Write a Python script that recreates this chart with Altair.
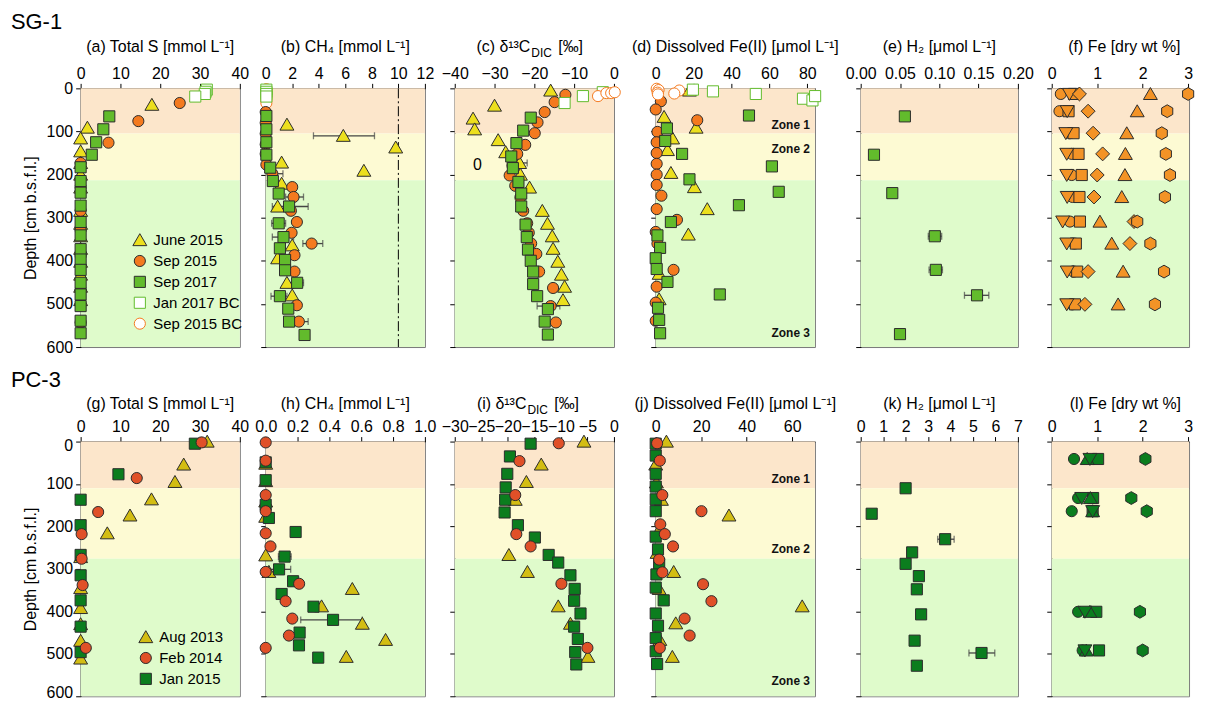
import altair as alt
import pandas as pd

FONT = "Liberation Sans"

# ---------------- colours ----------------
YEL, ORG, GRN = "#ECDF1E", "#F47A1F", "#62BB2C"
OLV, RED, DGN = "#D3BD13", "#E05028", "#0B7D1E"
FE_ORG = "#F39326"
DK = "#2b2b2b"
Z1, Z2, Z3 = "#FCE6CB", "#FDFAD3", "#DFFBCB"

# custom symbol paths
TRI_UP = "M0,-1.15L1.25,1L-1.25,1Z"
TRI_DN = "M0,1.15L1.25,-1L-1.25,-1Z"
DIAM = "M0,-1.25L1.25,0L0,1.25L-1.25,0Z"
HEX = "M0,-1.15L1,-0.58L1,0.58L0,1.15L-1,0.58L-1,-0.58Z"

# ================= SG-1 =================
SG_NAMES = ["June 2015", "Sep 2015", "Sep 2017", "Jan 2017 BC", "Sep 2015 BC"]
SG_ZONES = [105, 213, 600]

# (a) Total S
A_JUN_D = [38, 91, 116, 146, 173, 200, 230, 284, 314, 343, 372, 402, 432, 460, 491]
A_JUN_V = [17.9, 1.7, 0, 0, 0, 0, 0, 0, 0, 0, 0, 0, 0, 0, 0]
A_S15_D = [34, 76, 126, 173, 229, 284, 328, 388, 467, 543]
A_S15_V = [24.9, 14.5, 7.0, 0, 0, 0, 0, 0, 0, 0]
A_S17_D = [65, 95, 125, 154, 183, 215, 242, 272, 310, 341, 373, 397, 421, 451, 478, 505, 539, 568]
A_S17_V = [7.2, 5.7, 3.9, 2.8, 0, 0, 0, 0, 0, 0, 0, 0, 0, 0, 0, 0, 0, 0]
A_JBC_D = [3, 8, 13, 19]
A_JBC_V = [31.7, 31.4, 31.2, 28.8]

# (b) CH4
B_JUN_D = [84, 110, 137, 172, 191, 221, 274, 364, 394, 451, 480]
B_JUN_V = [1.6, 5.85, 9.8, 1.2, 7.4, 1.2, 0.9, 2.0, 0.9, 1.6, 2.0]
B_S15_D = [55, 80, 105, 130, 152, 177, 198, 229, 252, 284, 310, 335, 360, 387, 425, 503, 541]
B_S15_V = [0, 0, 0, 0, 0, 0.05, 0.5, 2.0, 2.1, 1.9, 2.35, 1.95, 3.46, 2.17, 2.17, 2.35, 2.5]
B_S17_D = [64, 95, 125, 154, 184, 215, 244, 274, 313, 345, 371, 398, 422, 451, 482, 511, 541, 572]
B_S17_V = [0.05, 0.05, 0.05, 0.05, 0.34, 0.54, 0.98, 1.76, 0.98, 1.34, 1.07, 1.46, 1.46, 2.37, 1.07, 1.7, 1.76, 2.93]
B_JBC_D = [3, 8, 13, 19]
B_JBC_V = [0.05, 0.05, 0.05, 0.05]
B_SBC_D = [2, 8, 14, 20, 27, 34]
B_SBC_V = [0.05, 0.05, 0.05, 0.05, 0.05, 0.05]
B_ERR_D = [110, 198, 252, 360, 541, 274, 313, 345, 451, 482]
B_ERR_LO = [3.6, 0.2, 1.5, 2.8, 2.1, 0.5, 0.45, 0.5, 2.1, 0.4]
B_ERR_HI = [8.2, 1.3, 2.85, 4.3, 3.2, 3.2, 1.5, 2.1, 2.85, 1.6]
B_LINE = [10]

# (c) d13C DIC
C_JUN_D = [5, 40, 70, 95, 120, 148, 173, 200, 230, 284, 314, 343, 372, 402, 432, 460, 491]
C_JUN_V = [-15.9, -30.0, -35.4, -35.0, -29.1, -27.2, -23.7, -23.5, -21.2, -18.0, -16.7, -15.5, -15.3, -14.1, -13.2, -12.4, -12.8]
C_S15_D = [15, 32, 55, 79, 104, 131, 152, 179, 202, 226, 253, 284, 313, 335, 360, 384, 425, 463, 505, 543]
C_S15_V = [-12.2, -14.9, -17.4, -19.2, -19.9, -22.3, -24.3, -25.5, -26.2, -24.8, -23.5, -22.8, -21.8, -21.4, -20.8, -19.5, -18.8, -15.3, -15.9, -14.6]
C_S17_D = [68, 98, 127, 158, 185, 217, 244, 274, 316, 345, 374, 400, 425, 454, 482, 512, 541, 571]
C_S17_V = [-20.9, -22.8, -24.5, -25.8, -25.4, -24.0, -23.3, -23.3, -22.2, -21.9, -21.6, -20.9, -20.3, -20.3, -19.3, -16.6, -17.4, -16.6]
C_JBC_D = [9, 18, 34]
C_JBC_V = [-2.8, -7.8, -12.4]
C_SBC_D = [18, 11, 11, 9]
C_SBC_V = [-4.0, -1.9, -0.7, 0.2]
C_ERR_D = [505, 173]
C_ERR_LO = [-19.3, -23.7]
C_ERR_HI = [-13.6, -21.8]
C_NOTE = ["0"]
C_NOTE_D = [177]
C_NOTE_V = [-34.3]

# (d) Dissolved Fe(II)
D_JUN_D = [5, 66, 91, 116, 143, 196, 229, 280, 339, 430, 489]
D_JUN_V = [17.8, 4.4, 21.3, 8.9, 6.2, 8.0, 20.4, 27.2, 17.2, 1.8, 1.8]
D_S15_D = [30, 49, 74, 101, 125, 150, 175, 200, 224, 249, 280, 305, 333, 360, 421, 460, 497, 539]
D_S15_V = [2.7, 0, 21.9, 0.9, 0.5, 0.5, 0.5, 0.5, 0.5, 3.0, 0.5, 11.2, 0, 0.9, 9.4, 0.5, 0, 0]
D_S17_D = [63, 93, 122, 152, 181, 211, 240, 271, 310, 341, 370, 394, 419, 449, 478, 509, 537, 568]
D_S17_V = [49.2, 5.9, 5.0, 13.9, 61.3, 17.8, 64.9, 43.9, 8.0, 0.9, 2.3, 0, 0.5, 6.2, 33.8, 1.2, 1.8, 2.3]
D_JBC_D = [3, 7, 13, 24, 28, 18]
D_JBC_V = [19.6, 30.2, 52.8, 77.7, 82.7, 84.1]
D_SBC_D = [1, 4, 10, 14, 5, 12]
D_SBC_V = [0.5, 1.5, 1.0, 1.2, 12.4, 9.8]
SG_ZONE_TXT = ["Zone 1", "Zone 2", "Zone 3"]
SG_ZONE_TXT_D = [85, 140, 568]

# (e) H2
E_S17_D = [65, 154, 243, 343, 421, 480, 570]
E_S17_V = [0.0562, 0.0169, 0.0402, 0.0943, 0.0956, 0.148, 0.050]
E_ERR_D = [343, 421, 480]
E_ERR_LO = [0.086, 0.087, 0.132]
E_ERR_HI = [0.103, 0.104, 0.163]

# (f) Fe [dry wt %]
FE_NAMES = ["circle", "square", "tri-down", "diamond", "tri-up", "hexagon"]
F_D = [13, 53, 104, 152, 201, 252, 309, 360, 425, 501]
F_CIRC = [0.2, 0.17, 0.4, 0.44, 0.44, 0.46, 0.4, 0.5, 0.48, 0.45]
F_SQR = [0.49, 0.37, 0.48, 0.59, 0.66, 0.61, 0.62, 0.53, 0.56, 0.51]
F_TDN = [0.39, 0.34, 0.31, 0.33, 0.33, 0.34, 0.24, 0.33, 0.34, 0.33]
F_DIA = [0.61, 0.8, 0.91, 1.12, 1.0, 0.93, 1.81, 1.72, 0.8, 0.73]
F_TUP = [2.17, 1.88, 1.65, 1.62, 1.61, 1.54, 1.06, 1.32, 1.57, 1.46]
F_HEX = [3.0, 2.54, 2.42, 2.51, 2.6, 2.49, 1.88, 2.17, 2.47, 2.27]

# ================= PC-3 =================
PC_NAMES = ["Aug 2013", "Feb 2014", "Jan 2015"]
PC_ZONES = [110, 276, 600]

# (g) Total S
G_A13_D = [0, 54, 95, 136, 174, 216, 272, 345, 392, 430, 469, 511]
G_A13_V = [31.8, 25.9, 23.7, 17.8, 12.4, 6.7, 0, 0, 0, 0, 0, 0]
G_F14_D = [2, 86, 166, 218, 276, 338, 486]
G_F14_V = [30.4, 14.1, 4.4, 0.25, 0.25, 0.5, 1.3]
G_J15_D = [5, 77, 137, 197, 267, 315, 374, 436, 496]
G_J15_V = [28.7, 9.5, 0, 0, 0, 0, 0, 0, 0]

# (h) CH4
H_A13_D = [52, 93, 141, 177, 268, 307, 347, 388, 429, 467, 507]
H_A13_V = [0, 0, 0, 0, 0, 0.02, 0.544, 0.351, 0.607, 0.753, 0.506]
H_F14_D = [2, 45, 126, 164, 216, 247, 307, 335, 376, 417, 457, 486]
H_F14_V = [0, 0, 0, 0, 0, 0.03, 0, 0.21, 0.125, 0.167, 0.146, 0]
H_J15_D = [49, 91, 149, 180, 213, 271, 301, 329, 359, 389, 420, 450, 480, 509]
H_J15_V = [0, 0, 0, 0.02, 0.188, 0.119, 0.084, 0.172, 0.1, 0.3, 0.423, 0.213, 0.209, 0.33]
H_ERR_D = [271, 301, 389, 420]
H_ERR_LO = [0.08, 0.02, 0.27, 0.22]
H_ERR_HI = [0.16, 0.157, 0.33, 0.607]

# (i) d13C DIC
I_A13_D = [0, 54, 95, 137, 267, 307, 388, 429, 507]
I_A13_V = [-5.65, -13.7, -16.5, -18.6, -19.8, -16.3, -10.5, -8.2, -4.9]
I_F14_D = [4, 46, 126, 218, 247, 335, 486]
I_F14_V = [-10.4, -17.8, -18.6, -18.4, -15.7, -9.9, -5.0]
I_J15_D = [5, 35, 76, 108, 137, 167, 197, 226, 267, 285, 315, 347, 375, 405, 436, 465, 496, 525]
I_J15_V = [-15.7, -19.6, -20.1, -20.4, -20.5, -20.6, -18.1, -14.9, -12.3, -10.5, -8.2, -7.4, -7.5, -6.3, -7.5, -6.8, -7.3, -7.1]

# (j) Dissolved Fe(II)
J_A13_D = [0, 54, 96, 137, 174, 213, 262, 307, 347, 388, 428, 467, 507]
J_A13_V = [4.7, 0, 0.3, 2.5, 32.2, 1.0, 0.6, 7.9, 1.5, 64.4, 8.8, 1.8, 7.3]
J_F14_D = [4, 45, 126, 164, 195, 218, 247, 278, 308, 336, 376, 417, 457, 486]
J_F14_V = [0.6, 1.8, 2.9, 20.1, 2.0, 4.0, 7.6, 1.5, 2.9, 20.8, 24.5, 12.7, 14.9, 1.8]
J_J15_D = [5, 33, 76, 106, 136, 164, 224, 254, 288, 313, 344, 374, 405, 434, 463, 494, 524]
J_J15_V = [0, 0, 0, 0, 0, 0, 0, 1.0, 1.5, 0.3, 0, 3.5, 0, 1.0, 0, 0, 0.6]
PC_ZONE_TXT = ["Zone 1", "Zone 2", "Zone 3"]
PC_ZONE_TXT_D = [89, 254, 565]

# (k) H2
K_J15_D = [110, 170, 230, 261, 288, 317, 348, 407, 469, 498, 528]
K_J15_V = [2.0, 0.49, 3.76, 2.29, 2.0, 2.59, 2.5, 2.69, 2.4, 5.38, 2.5]
K_ERR_D = [230, 498, 317, 348, 407, 528]
K_ERR_LO = [3.43, 4.82, 2.45, 2.35, 2.55, 2.35]
K_ERR_HI = [4.16, 5.97, 2.75, 2.65, 2.85, 2.65]

# (l) Fe [dry wt %]
L_D = [41, 133, 164, 401, 492]
L_CIRC = [0.49, 0.58, 0.44, 0.58, 0.68]
L_SQR = [1.02, 0.91, 0.9, 0.98, 1.04]
L_TDN = [0.84, 0.66, 0.9, 0.73, 0.73]
L_TUP = [0.78, 0.85, 0.9, 0.84, 0.76]
L_HEX = [2.06, 1.75, 2.09, 1.94, 2.0]

YT = list(range(0, 601, 100))


def pts_frame(items):
    rows = []
    for name, ds, vs in items:
        for d, v in zip(ds, vs):
            rows.append({"series": name, "depth": d, "value": v})
    return pd.DataFrame(rows)


def err_frame(ds, lo, hi):
    return pd.DataFrame({"depth": ds, "lo": lo, "hi": hi})


def panel(df, names, shapes, fills, strokes, xdom, xvals, xfmt, zones, width, height,
          first, title_pieces, title_dy, legend=None, errs=None, vline=None, notes=None,
          zone_text=None, row_label=None, flush=False):
    yscale = alt.Scale(domain=[0, 600], reverse=True, nice=False, zero=False)
    xscale = alt.Scale(domain=xdom, nice=False, zero=False)
    if first:
        if flush:
            yaxis = alt.Axis(values=YT, labels=True, title="Depth [cm b.s.f.l.]", labelFontSize=16,
                             titleFontSize=16, titleFontWeight="normal", tickSize=5, labelPadding=3,
                             titlePadding=8, labelFlush=True, labelFlushOffset=4, labelOverlap=False)
        else:
            yaxis = alt.Axis(values=YT, labels=True, title="Depth [cm b.s.f.l.]", labelFontSize=16,
                             titleFontSize=16, titleFontWeight="normal", tickSize=5, labelPadding=3,
                             titlePadding=8, labelFlush=False, labelOverlap=False)
    else:
        yaxis = alt.Axis(values=YT, labels=False, title=None, tickSize=5)
    xaxis = alt.Axis(orient="top", values=xvals, format=xfmt, title=None, labelFontSize=16,
                     tickSize=5, labelPadding=2, labelOverlap=False, labelFlush=False)
    layers = []
    z0 = 0
    for end, col in zip(zones, [Z1, Z2, Z3]):
        zdf = pd.DataFrame({"start": [z0], "end": [end]})
        layers.append(
            alt.Chart(zdf).mark_rect(fill=col, strokeWidth=0).encode(
                x=alt.value(0), x2=alt.value(width),
                y=alt.Y("start:Q", scale=yscale, axis=yaxis),
                y2="end:Q"))
        z0 = end
    if vline is not None:
        layers.append(
            alt.Chart(pd.DataFrame({"v": vline})).mark_rule(
                color="black", strokeWidth=1, strokeDash=[10, 3, 2, 3]).encode(
                x=alt.X("v:Q", scale=xscale, axis=xaxis)))
    if errs is not None:
        layers.append(
            alt.Chart(errs).mark_errorbar(ticks=True, size=7, thickness=1.3, color="#444").encode(
                x=alt.X("lo:Q", scale=xscale, axis=xaxis),
                x2="hi:Q",
                y=alt.Y("depth:Q", scale=yscale, axis=yaxis)))
    layers.append(
        alt.Chart(df).mark_point(opacity=1, fillOpacity=1, strokeWidth=1, size=125).encode(
            x=alt.X("value:Q", scale=xscale, axis=xaxis),
            y=alt.Y("depth:Q", scale=yscale, axis=yaxis),
            shape=alt.Shape("series:N", scale=alt.Scale(domain=names, range=shapes), legend=legend),
            fill=alt.Fill("series:N", scale=alt.Scale(domain=names, range=fills), legend=legend),
            stroke=alt.Stroke("series:N", scale=alt.Scale(domain=names, range=strokes), legend=legend)))
    if notes is not None:
        layers.append(
            alt.Chart(notes).mark_text(fontSize=16, font=FONT, color="black").encode(
                x=alt.X("value:Q", scale=xscale, axis=xaxis),
                y=alt.Y("depth:Q", scale=yscale, axis=yaxis),
                text="label:N"))
    if zone_text is not None:
        layers.append(
            alt.Chart(zone_text).mark_text(fontSize=12, font=FONT, fontWeight="bold",
                                           align="right", baseline="middle", color="#111").encode(
                x=alt.value(width - 5),
                y=alt.Y("depth:Q", scale=yscale, axis=yaxis),
                text="label:N"))
    for txt, dx, dy, fs, al in title_pieces:
        layers.append(
            alt.Chart(pd.DataFrame({"t": [txt]})).mark_text(
                fontSize=fs, font=FONT, align=al, baseline="middle", color="black").encode(
                x=alt.value(width / 2 + dx), y=alt.value(dy + title_dy), text="t:N"))
    if row_label is not None:
        txt, dy = row_label
        layers.append(
            alt.Chart(pd.DataFrame({"t": [txt]})).mark_text(
                fontSize=22, font=FONT, align="left", baseline="middle", color="black").encode(
                x=alt.value(-70), y=alt.value(dy), text="t:N"))
    return alt.layer(*layers).properties(width=width, height=height)


def spacer(w, h):
    return alt.Chart(pd.DataFrame({"s": [0]})).mark_point(opacity=0).encode(
        x=alt.value(0), y=alt.value(0)
    ).properties(width=w, height=h, view=alt.ViewBackground(stroke=None))


def simple_title(t):
    return [(t, 0, 0, 16, "center")]


def dic_title(prefix, shift):
    return [(prefix + " δ¹³C", -4 + shift, 0, 16, "right"),
            ("DIC", -3 + shift, 6, 12, "left"),
            ("[‰]", 24 + shift, 0, 16, "left")]


def legend_at(x, y):
    return alt.Legend(orient="none", legendX=x, legendY=y, title=None, labelFontSize=15,
                      labelFont=FONT, symbolSize=125, symbolStrokeWidth=1, rowPadding=4,
                      labelOffset=6, padding=0, labelLimit=0)


SG_SHAPES = [TRI_UP, "circle", "square", "square", "circle"]
SG_FILLS = [YEL, ORG, GRN, "white", "white"]
SG_STROKES = [DK, DK, DK, GRN, ORG]
PC_SHAPES = [TRI_UP, "circle", "square"]
PC_FILLS = [OLV, RED, DGN]
PC_STROKES = [DK, DK, DK]
FE_SHAPES = ["circle", "square", TRI_DN, DIAM, TRI_UP, HEX]

H1, H2 = 260, 256
GAPS = [26, 30, 42, 46, 34]
WIDTHS = [160, 160, 160, 160, 158, 138]
TD1, TD2 = -42, -38

# ---------------- top row panels ----------------
pa = panel(pts_frame([("June 2015", A_JUN_D, A_JUN_V), ("Sep 2015", A_S15_D, A_S15_V),
                      ("Sep 2017", A_S17_D, A_S17_V), ("Jan 2017 BC", A_JBC_D, A_JBC_V)]),
           SG_NAMES, SG_SHAPES, SG_FILLS, SG_STROKES, [0, 40], [0, 10, 20, 30, 40], "d",
           SG_ZONES, WIDTHS[0], H1, True, simple_title("(a) Total S [mmol L⁻¹]"), TD1,
           legend=legend_at(52, 145), row_label=("SG-1", -67))
pb = panel(pts_frame([("Sep 2015 BC", B_SBC_D, B_SBC_V), ("June 2015", B_JUN_D, B_JUN_V),
                      ("Sep 2015", B_S15_D, B_S15_V), ("Sep 2017", B_S17_D, B_S17_V),
                      ("Jan 2017 BC", B_JBC_D, B_JBC_V)]),
           SG_NAMES, SG_SHAPES, SG_FILLS, SG_STROKES, [0, 12], [0, 2, 4, 6, 8, 10, 12], "d",
           SG_ZONES, WIDTHS[1], H1, False, simple_title("(b) CH₄ [mmol L⁻¹]"), TD1,
           errs=err_frame(B_ERR_D, B_ERR_LO, B_ERR_HI), vline=B_LINE)
pc = panel(pts_frame([("June 2015", C_JUN_D, C_JUN_V), ("Sep 2015", C_S15_D, C_S15_V),
                      ("Sep 2017", C_S17_D, C_S17_V), ("Jan 2017 BC", C_JBC_D, C_JBC_V),
                      ("Sep 2015 BC", C_SBC_D, C_SBC_V)]),
           SG_NAMES, SG_SHAPES, SG_FILLS, SG_STROKES, [-40, 0], [-40, -30, -20, -10, 0], "d",
           SG_ZONES, WIDTHS[2], H1, False, dic_title("(c)", 0), TD1,
           errs=err_frame(C_ERR_D, C_ERR_LO, C_ERR_HI),
           notes=pd.DataFrame({"label": C_NOTE, "depth": C_NOTE_D, "value": C_NOTE_V}))
pd_ = panel(pts_frame([("June 2015", D_JUN_D, D_JUN_V), ("Sep 2015", D_S15_D, D_S15_V),
                       ("Sep 2017", D_S17_D, D_S17_V), ("Jan 2017 BC", D_JBC_D, D_JBC_V),
                       ("Sep 2015 BC", D_SBC_D, D_SBC_V)]),
            SG_NAMES, SG_SHAPES, SG_FILLS, SG_STROKES, [0, 84], [0, 20, 40, 60, 80], "d",
            SG_ZONES, WIDTHS[3], H1, False, simple_title("(d) Dissolved Fe(II) [μmol L⁻¹]"), TD1,
            zone_text=pd.DataFrame({"label": SG_ZONE_TXT, "depth": SG_ZONE_TXT_D}))
pe = panel(pts_frame([("Sep 2017", E_S17_D, E_S17_V)]),
           SG_NAMES, SG_SHAPES, SG_FILLS, SG_STROKES, [0, 0.2], [0, 0.05, 0.1, 0.15, 0.2], ".2f",
           SG_ZONES, WIDTHS[4], H1, False, simple_title("(e) H₂ [μmol L⁻¹]"), TD1,
           errs=err_frame(E_ERR_D, E_ERR_LO, E_ERR_HI))
pf = panel(pts_frame([("circle", F_D, F_CIRC), ("square", F_D, F_SQR), ("tri-down", F_D, F_TDN),
                      ("diamond", F_D, F_DIA), ("tri-up", F_D, F_TUP), ("hexagon", F_D, F_HEX)]),
           FE_NAMES, FE_SHAPES, [FE_ORG] * 6, [DK] * 6, [0, 3.02], [0, 1, 2, 3], "d",
           SG_ZONES, WIDTHS[5], H1, False, [("(f) Fe [dry wt %]", 4, 0, 16, "center")], TD1)

# ---------------- bottom row panels ----------------
pg = panel(pts_frame([("Aug 2013", G_A13_D, G_A13_V), ("Jan 2015", G_J15_D, G_J15_V),
                      ("Feb 2014", G_F14_D, G_F14_V)]),
           PC_NAMES, PC_SHAPES, PC_FILLS, PC_STROKES, [0, 40], [0, 10, 20, 30, 40], "d",
           PC_ZONES, WIDTHS[0], H2, True, simple_title("(g) Total S [mmol L⁻¹]"), TD2,
           legend=legend_at(58, 189), row_label=("PC-3", -62), flush=True)
ph = panel(pts_frame([("Aug 2013", H_A13_D, H_A13_V), ("Jan 2015", H_J15_D, H_J15_V),
                      ("Feb 2014", H_F14_D, H_F14_V)]),
           PC_NAMES, PC_SHAPES, PC_FILLS, PC_STROKES, [0, 1], [0, 0.2, 0.4, 0.6, 0.8, 1.0], ".1f",
           PC_ZONES, WIDTHS[1], H2, False, simple_title("(h) CH₄ [mmol L⁻¹]"), TD2,
           errs=err_frame(H_ERR_D, H_ERR_LO, H_ERR_HI))
pi = panel(pts_frame([("Aug 2013", I_A13_D, I_A13_V), ("Jan 2015", I_J15_D, I_J15_V),
                      ("Feb 2014", I_F14_D, I_F14_V)]),
           PC_NAMES, PC_SHAPES, PC_FILLS, PC_STROKES, [-30, 0], [-30, -25, -20, -15, -10, -5, 0], "d",
           PC_ZONES, WIDTHS[2], H2, False, dic_title("(i)", -4), TD2)
pj = panel(pts_frame([("Aug 2013", J_A13_D, J_A13_V), ("Jan 2015", J_J15_D, J_J15_V),
                      ("Feb 2014", J_F14_D, J_F14_V)]),
           PC_NAMES, PC_SHAPES, PC_FILLS, PC_STROKES, [0, 70], [0, 20, 40, 60], "d",
           PC_ZONES, WIDTHS[3], H2, False, simple_title("(j) Dissolved Fe(II) [μmol L⁻¹]"), TD2,
           zone_text=pd.DataFrame({"label": PC_ZONE_TXT, "depth": PC_ZONE_TXT_D}))
pk = panel(pts_frame([("Jan 2015", K_J15_D, K_J15_V)]),
           PC_NAMES, PC_SHAPES, PC_FILLS, PC_STROKES, [0, 7], [0, 1, 2, 3, 4, 5, 6, 7], "d",
           PC_ZONES, WIDTHS[4], H2, False, simple_title("(k) H₂ [μmol L⁻¹]"), TD2,
           errs=err_frame(K_ERR_D, K_ERR_LO, K_ERR_HI))
pl = panel(pts_frame([("circle", L_D, L_CIRC), ("square", L_D, L_SQR), ("tri-up", L_D, L_TUP),
                      ("tri-down", L_D, L_TDN), ("hexagon", L_D, L_HEX)]),
           FE_NAMES, FE_SHAPES, [DGN] * 6, [DK] * 6, [0, 3.02], [0, 1, 2, 3], "d",
           PC_ZONES, WIDTHS[5], H2, False, [("(l) Fe [dry wt %]", 5, 0, 16, "center")], TD2)


def grid_row(panels, h):
    cells = []
    for i, p in enumerate(panels):
        cells.append(p)
        if i < len(GAPS):
            cells.append(spacer(GAPS[i], h))
    return cells


cells = grid_row([pa, pb, pc, pd_, pe, pf], H1) + grid_row([pg, ph, pi, pj, pk, pl], H2)

chart = alt.concat(*cells, columns=11, spacing={"row": 95, "column": 0}, bounds="flush")
chart = chart.resolve_scale(shape="independent", fill="independent", stroke="independent")

chart = chart.properties(
    padding={"left": 2, "top": 0, "right": 0, "bottom": 0}
).configure(font=FONT).configure_view(
    stroke="#777777", strokeWidth=1
).configure_axis(
    labelFont=FONT, titleFont=FONT, domainColor="black", tickColor="black",
    labelColor="black", titleColor="black", grid=False, domainWidth=1, tickWidth=1
)

chart.save("out.html", embed_options={"renderer": "svg", "actions": False})
